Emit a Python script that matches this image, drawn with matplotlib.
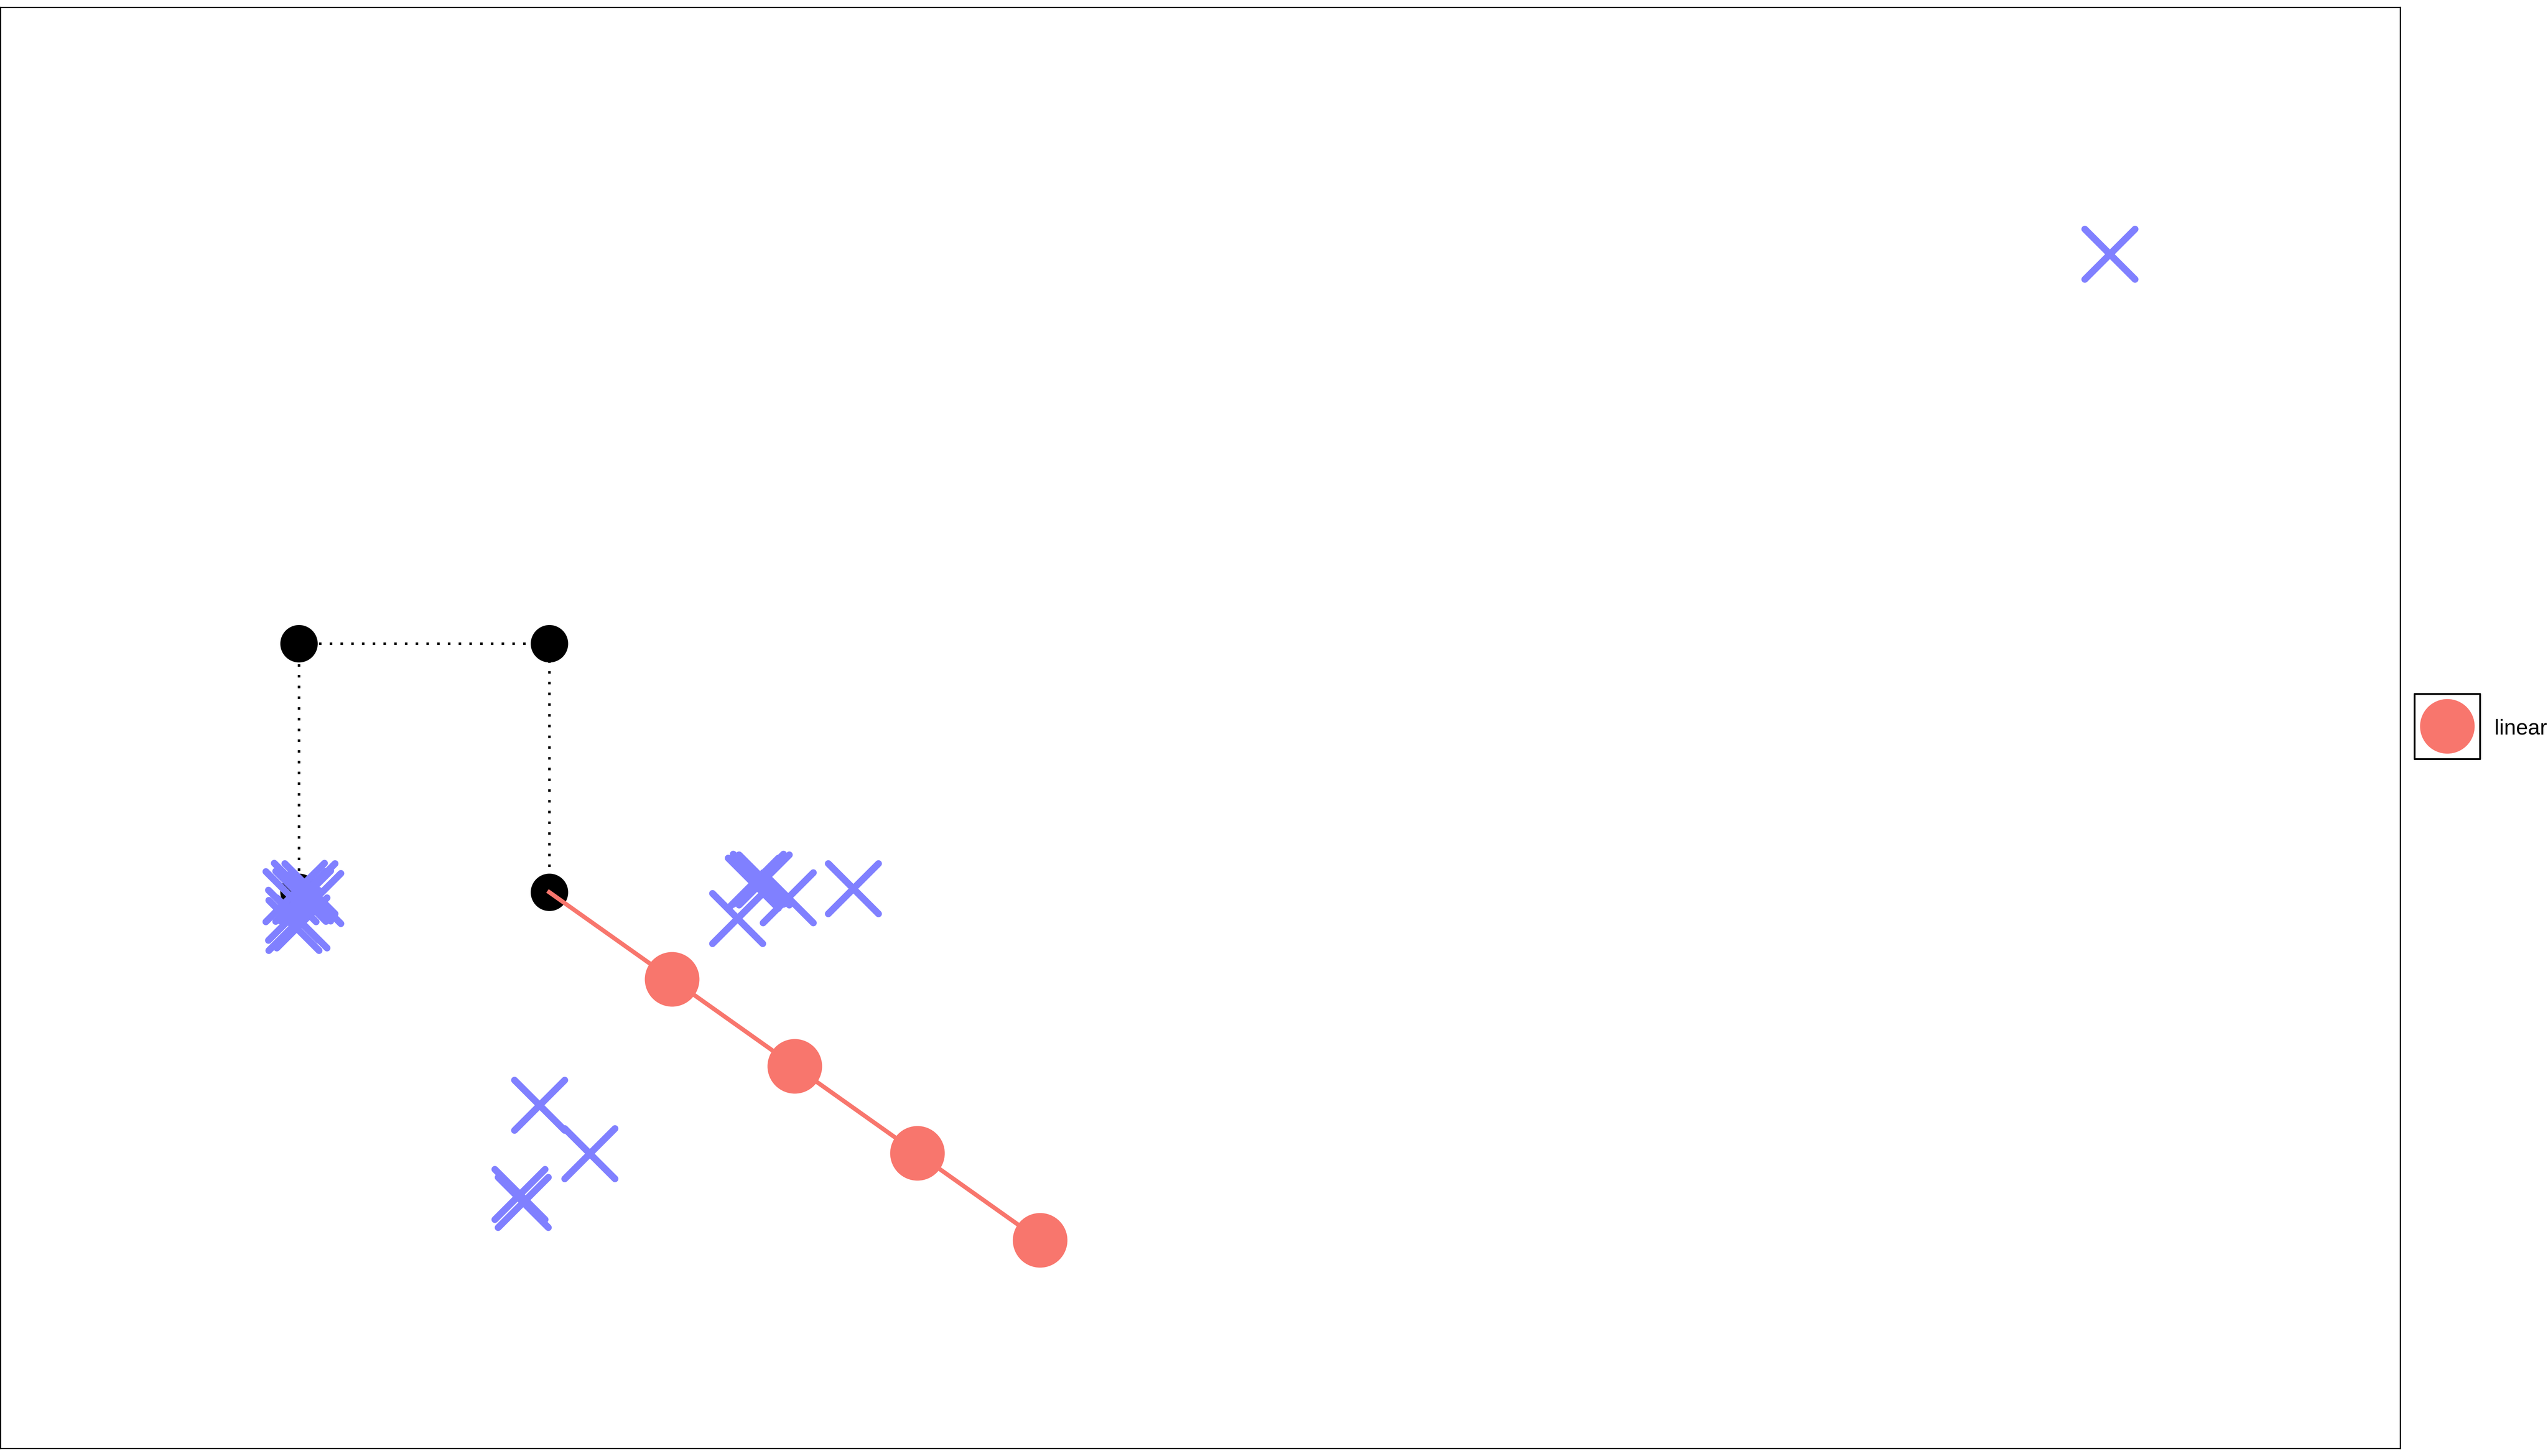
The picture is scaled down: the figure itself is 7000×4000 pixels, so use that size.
import matplotlib
matplotlib.use("Agg")
import matplotlib.pyplot as plt
from matplotlib.lines import Line2D
from matplotlib.patches import Rectangle
from matplotlib.markers import MarkerStyle
from matplotlib.legend_handler import HandlerBase

plt.rcParams['font.family'] = ['Liberation Sans', 'DejaVu Sans']

# dotted square path (black points)
path_x = [0.0, 0.0, 1.0, 1.0]
path_y = [0.0, 1.0, 1.0, 0.0]

# "linear" points, the line starts at the last path point
lin_x = [1.49, 1.98, 2.47, 2.96]
lin_y = [-0.35, -0.70, -1.05, -1.40]

# blue crosses
pts_x = [0.001, 0.044, -0.032, 0.007, 0.067, -0.022, -0.020, 0.012, 0.026,
         1.814, 1.834, 1.858, 1.751, 1.953, 2.214,
         0.961, 1.161, 0.882, 0.895,
         7.231]
pts_y = [0.016, 0.015, -0.018, -0.016, -0.025, -0.092, -0.133, -0.123, -0.015,
         0.037, 0.053, 0.050, -0.105, -0.022, 0.015,
         -0.857, -1.051, -1.215, -1.247,
         2.567]

RED = '#F8766D'
BLUE = '#8080FF'


class BoxedDot(HandlerBase):
    # legend key: dot inside a square frame
    def create_artists(self, legend, orig_handle, xdescent, ydescent,
                       width, height, fontsize, trans):
        cx = width / 2 - xdescent
        cy = 0.37 * fontsize
        side = 25.8
        box = Rectangle((cx - side / 2, cy - side / 2), side, side,
                        facecolor='white', edgecolor='black', lw=0.72,
                        joinstyle='round', transform=trans)
        dot = Line2D([cx], [cy], marker='o', ms=20.6, linestyle='none',
                     color=orig_handle.get_color(), transform=trans)
        return [box, dot]


fig = plt.figure(figsize=(14, 8), dpi=500)
ax = fig.add_axes([0.0002, 0.00525, 0.94179, 0.98975])

ax.plot(path_x, path_y, color='black', lw=1.0, linestyle=(0, (1, 3.25)), zorder=1)
ax.plot(path_x, path_y, 'o', color='black', ms=13.8, zorder=2)

ax.plot([path_x[-1]] + lin_x, [path_y[-1]] + lin_y, color=RED, lw=1.7, zorder=3)
lin_handle, = ax.plot(lin_x, lin_y, 'o', color=RED, ms=20.6, zorder=3)

ax.plot(pts_x, pts_y, linestyle='none', marker=MarkerStyle('x', capstyle='round'),
        ms=20, mew=2.7, color=BLUE, zorder=4)

ax.set_xlim(-1.191, 8.391)
ax.set_ylim(-2.237, 3.559)
ax.set_xticks([])
ax.set_yticks([])
for s in ax.spines.values():
    s.set_linewidth(0.5)
    s.set_color('black')

fig.legend([lin_handle], ['linear'], handler_map={Line2D: BoxedDot()},
           loc='center left', bbox_to_anchor=(0.94757, 0.5), frameon=False,
           borderpad=0, borderaxespad=0, fontsize=8.5,
           handlelength=25.9 / 8.5, handleheight=1.0, handletextpad=40 / 500 * 72 / 8.5)

plt.savefig('out.png', dpi=500)
